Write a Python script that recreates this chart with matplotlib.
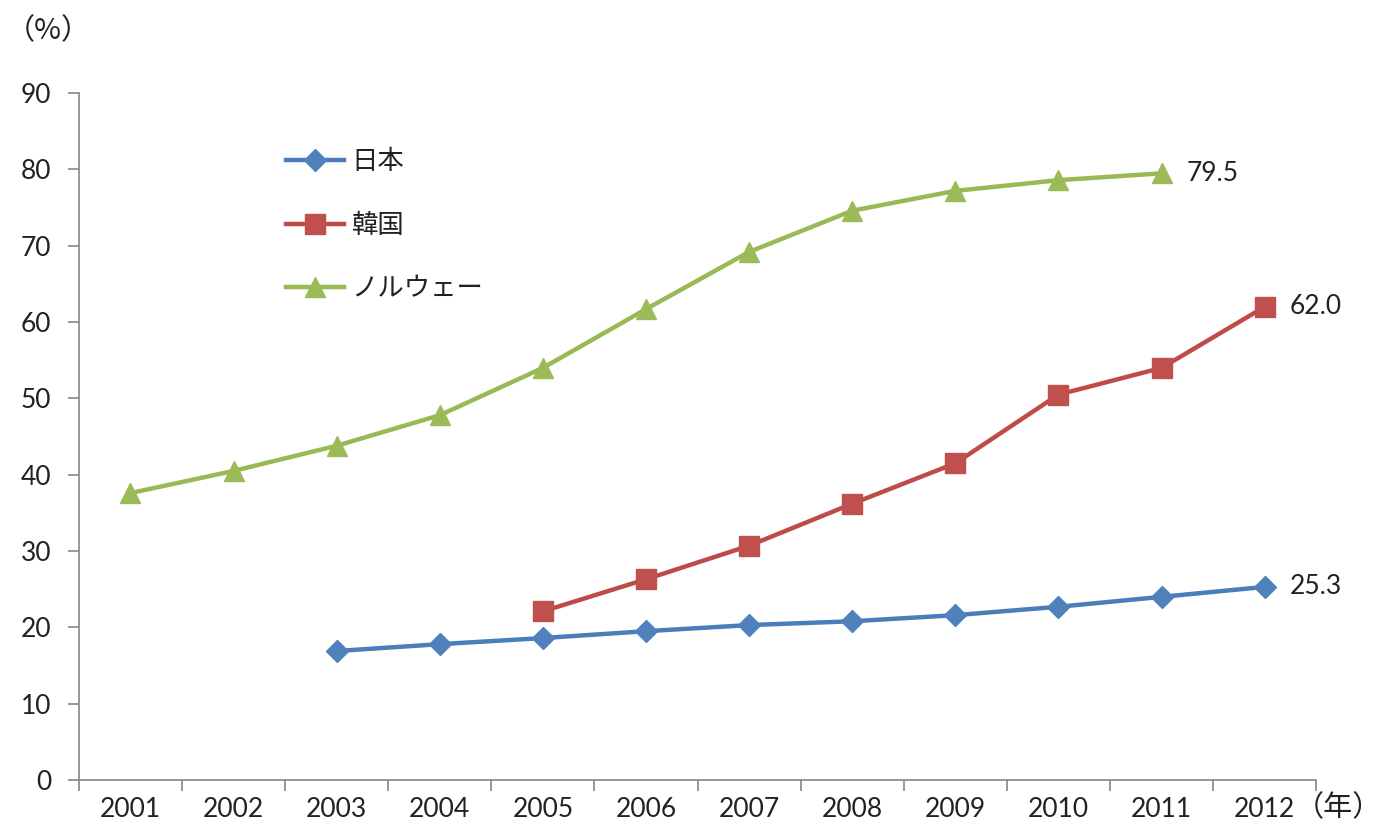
import matplotlib
matplotlib.use("Agg")
import matplotlib.pyplot as plt

plt.rcParams['font.family'] = ['Lato', 'Noto Sans CJK JP', 'DejaVu Sans']

years = ["2001", "2002", "2003", "2004", "2005", "2006",
         "2007", "2008", "2009", "2010", "2011", "2012"]

# None = no data for that year
japan = [None, None, 16.9, 17.8, 18.6, 19.5, 20.3, 20.8, 21.6, 22.7, 24.0, 25.3]
korea = [None, None, None, None, 22.1, 26.3, 30.7, 36.2, 41.5, 50.5, 54.0, 62.0]
norway = [37.6, 40.5, 43.8, 47.8, 54.0, 61.7, 69.2, 74.6, 77.2, 78.6, 79.5, None]

names = ["日本", "韓国", "ノルウェー"]
line_colors = ["#4A7EBB", "#BE4B48", "#98B954"]
marker_colors = ["#4F81BD", "#C0504D", "#9BBB59"]
markers = ["D", "s", "^"]
sizes = [11, 15, 15]

grey = "#868686"
txt = "#222222"
jp = ['Noto Sans CJK JP', 'DejaVu Sans']

fig = plt.figure(figsize=(13.84, 8.32), dpi=100)
ax = fig.add_axes([0.057, 0.0625, 0.894, 0.8255])

x = list(range(len(years)))
series = [japan, korea, norway]
for vals, nm, lc, mc, mk, ms in zip(series, names, line_colors, marker_colors, markers, sizes):
    xs = [i for i, v in zip(x, vals) if v is not None]
    ys = [v for v in vals if v is not None]
    ax.plot(xs, ys, color=lc, lw=3.2, marker=mk, ms=ms,
            markerfacecolor=mc, markeredgecolor=mc, label=nm)
    ax.annotate(f"{ys[-1]:.1f}", (xs[-1], ys[-1]), xytext=(18, 0),
                textcoords="offset points", va="center", ha="left",
                fontsize=19, color=txt)

ax.set_xlim(-0.5, len(years) - 0.5)
ax.set_ylim(0, 90)
ax.set_yticks(range(0, 91, 10))
ax.set_xticks(x)
ax.set_xticklabels(years)
ax.set_xticks([i - 0.5 for i in range(len(years) + 1)], minor=True)
ax.tick_params(axis="x", which="major", length=0, pad=12, labelsize=19, labelcolor=txt)
ax.tick_params(axis="x", which="minor", length=8, width=1.2, color=grey)
ax.tick_params(axis="y", length=8, width=1.2, color=grey, pad=12, labelsize=19, labelcolor=txt)

for s in ["top", "right"]:
    ax.spines[s].set_visible(False)
for s in ["left", "bottom"]:
    ax.spines[s].set_color(grey)
    ax.spines[s].set_linewidth(1.2)

leg = ax.legend(loc="upper left", bbox_to_anchor=(0.148, 0.955), frameon=False,
                prop={"family": jp, "size": 19}, labelspacing=1.4,
                handlelength=2.2, handletextpad=0.3)
for t in leg.get_texts():
    t.set_color(txt)

fig.text(0.004, 0.962, "（%）", fontsize=21, family=jp, color=txt, va="center", ha="left")
fig.text(0.999, 0.029, "（年）", fontsize=21, family=jp, color=txt, va="center", ha="right")

fig.savefig("out.png", dpi=100)
